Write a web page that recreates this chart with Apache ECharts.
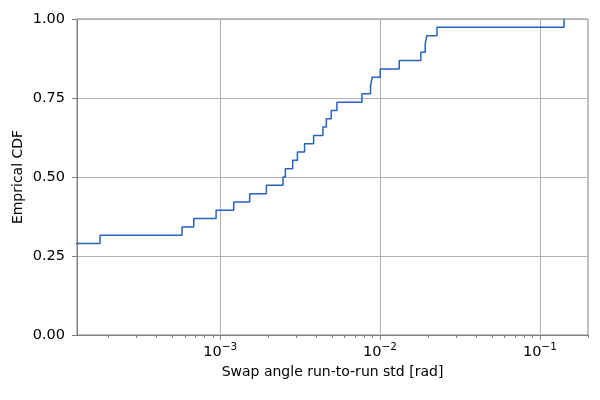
<!DOCTYPE html>
<html>
<head>
<meta charset="utf-8">
<script src="https://cdn.jsdelivr.net/npm/echarts@6/dist/echarts.min.js"></script>
<style>
  html, body { margin: 0; padding: 0; background: #fff; }
  #chart { width: 600px; height: 400px; }
</style>
</head>
<body>
<div id="chart"></div>
<script>
// sorted run-to-run std values [rad]; the first 11 lie left of the visible range
const stdValues = [
  1e-4, 1e-4, 1e-4, 1e-4, 1e-4, 1e-4, 1e-4, 1e-4, 1e-4, 1e-4, 1e-4,
  1.77e-4, 5.77e-4, 6.83e-4, 9.42e-4, 1.214e-3, 1.528e-3, 1.944e-3,
  2.47e-3, 2.555e-3, 2.84e-3, 3.04e-3, 3.37e-3, 3.84e-3, 4.39e-3,
  4.61e-3, 4.95e-3, 5.37e-3, 7.70e-3, 8.72e-3, 8.93e-3, 1.002e-2,
  1.318e-2, 1.80e-2, 1.917e-2, 1.96e-2, 2.27e-2, 0.1417
];
const majorTicks = [1e-3, 1e-2, 1e-1];
const minorTicks = [];
[1e-4, 1e-3, 1e-2, 1e-1].forEach(d => {
  for (let m = 2; m <= 9; m++) minorTicks.push(+(m * d).toPrecision(3));
});
const yTicks = [0, 0.25, 0.5, 0.75, 1];

const n = stdValues.length;
const cdf = stdValues.map((v, i) => [v, (i + 1) / n]);

const font = 'DejaVu Sans';
const chart = echarts.init(document.getElementById('chart'));
chart.setOption({
  animation: false,
  grid: {
    left: 77, right: 12, top: 19, bottom: 65,
    show: true, borderColor: '#808080', borderWidth: 1
  },
  xAxis: [
    {
      type: 'log',
      min: 1.27e-4,
      max: 0.2,
      position: 'bottom',
      name: 'Swap angle run-to-run std [rad]',
      nameLocation: 'middle',
      nameGap: 30,
      nameTextStyle: { fontFamily: font, fontSize: 14, color: '#000' },
      axisLine: { lineStyle: { color: '#808080' } },
      axisTick: { customValues: majorTicks, length: 5, lineStyle: { color: '#808080' } },
      splitLine: { show: true, lineStyle: { color: '#b0b0b0', width: 1 } },
      axisLabel: {
        customValues: majorTicks,
        margin: 7,
        formatter: v => {
          const e = Math.round(Math.log10(v));
          return '{b|10}{s|' + (e < 0 ? '\u2212' : '') + Math.abs(e) + '}';
        },
        rich: {
          b: { fontFamily: font, fontSize: 14.5, color: '#000' },
          s: { fontFamily: font, fontSize: 10.5, color: '#000', padding: [0, 0, 9, 0] }
        }
      }
    },
    {
      type: 'log',
      min: 1.27e-4,
      max: 0.2,
      position: 'bottom',
      axisLine: { show: false },
      axisTick: { customValues: minorTicks, length: 3, lineStyle: { color: '#808080' } },
      axisLabel: { show: false },
      splitLine: { show: false }
    }
  ],
  yAxis: {
    type: 'value',
    min: 0,
    max: 1,
    interval: 0.25,
    name: 'Emprical CDF',
    nameLocation: 'middle',
    nameRotate: 90,
    nameGap: 52,
    nameMoveOverlap: false,
    nameTextStyle: { fontFamily: font, fontSize: 14, color: '#000' },
    axisLine: { show: true, lineStyle: { color: '#808080' } },
    axisTick: { show: true, length: 5, lineStyle: { color: '#808080' } },
    splitLine: { show: true, lineStyle: { color: '#b0b0b0', width: 1 } },
    axisLabel: {
      customValues: yTicks,
      margin: 12,
      fontFamily: font,
      fontSize: 14.5,
      color: '#000',
      formatter: v => v.toFixed(2)
    }
  },
  series: [{
    type: 'line',
    xAxisIndex: 0,
    step: 'end',
    showSymbol: false,
    clip: true,
    data: cdf,
    lineStyle: { color: '#2563c0', width: 1.5 }
  }]
});
</script>
</body>
</html>
